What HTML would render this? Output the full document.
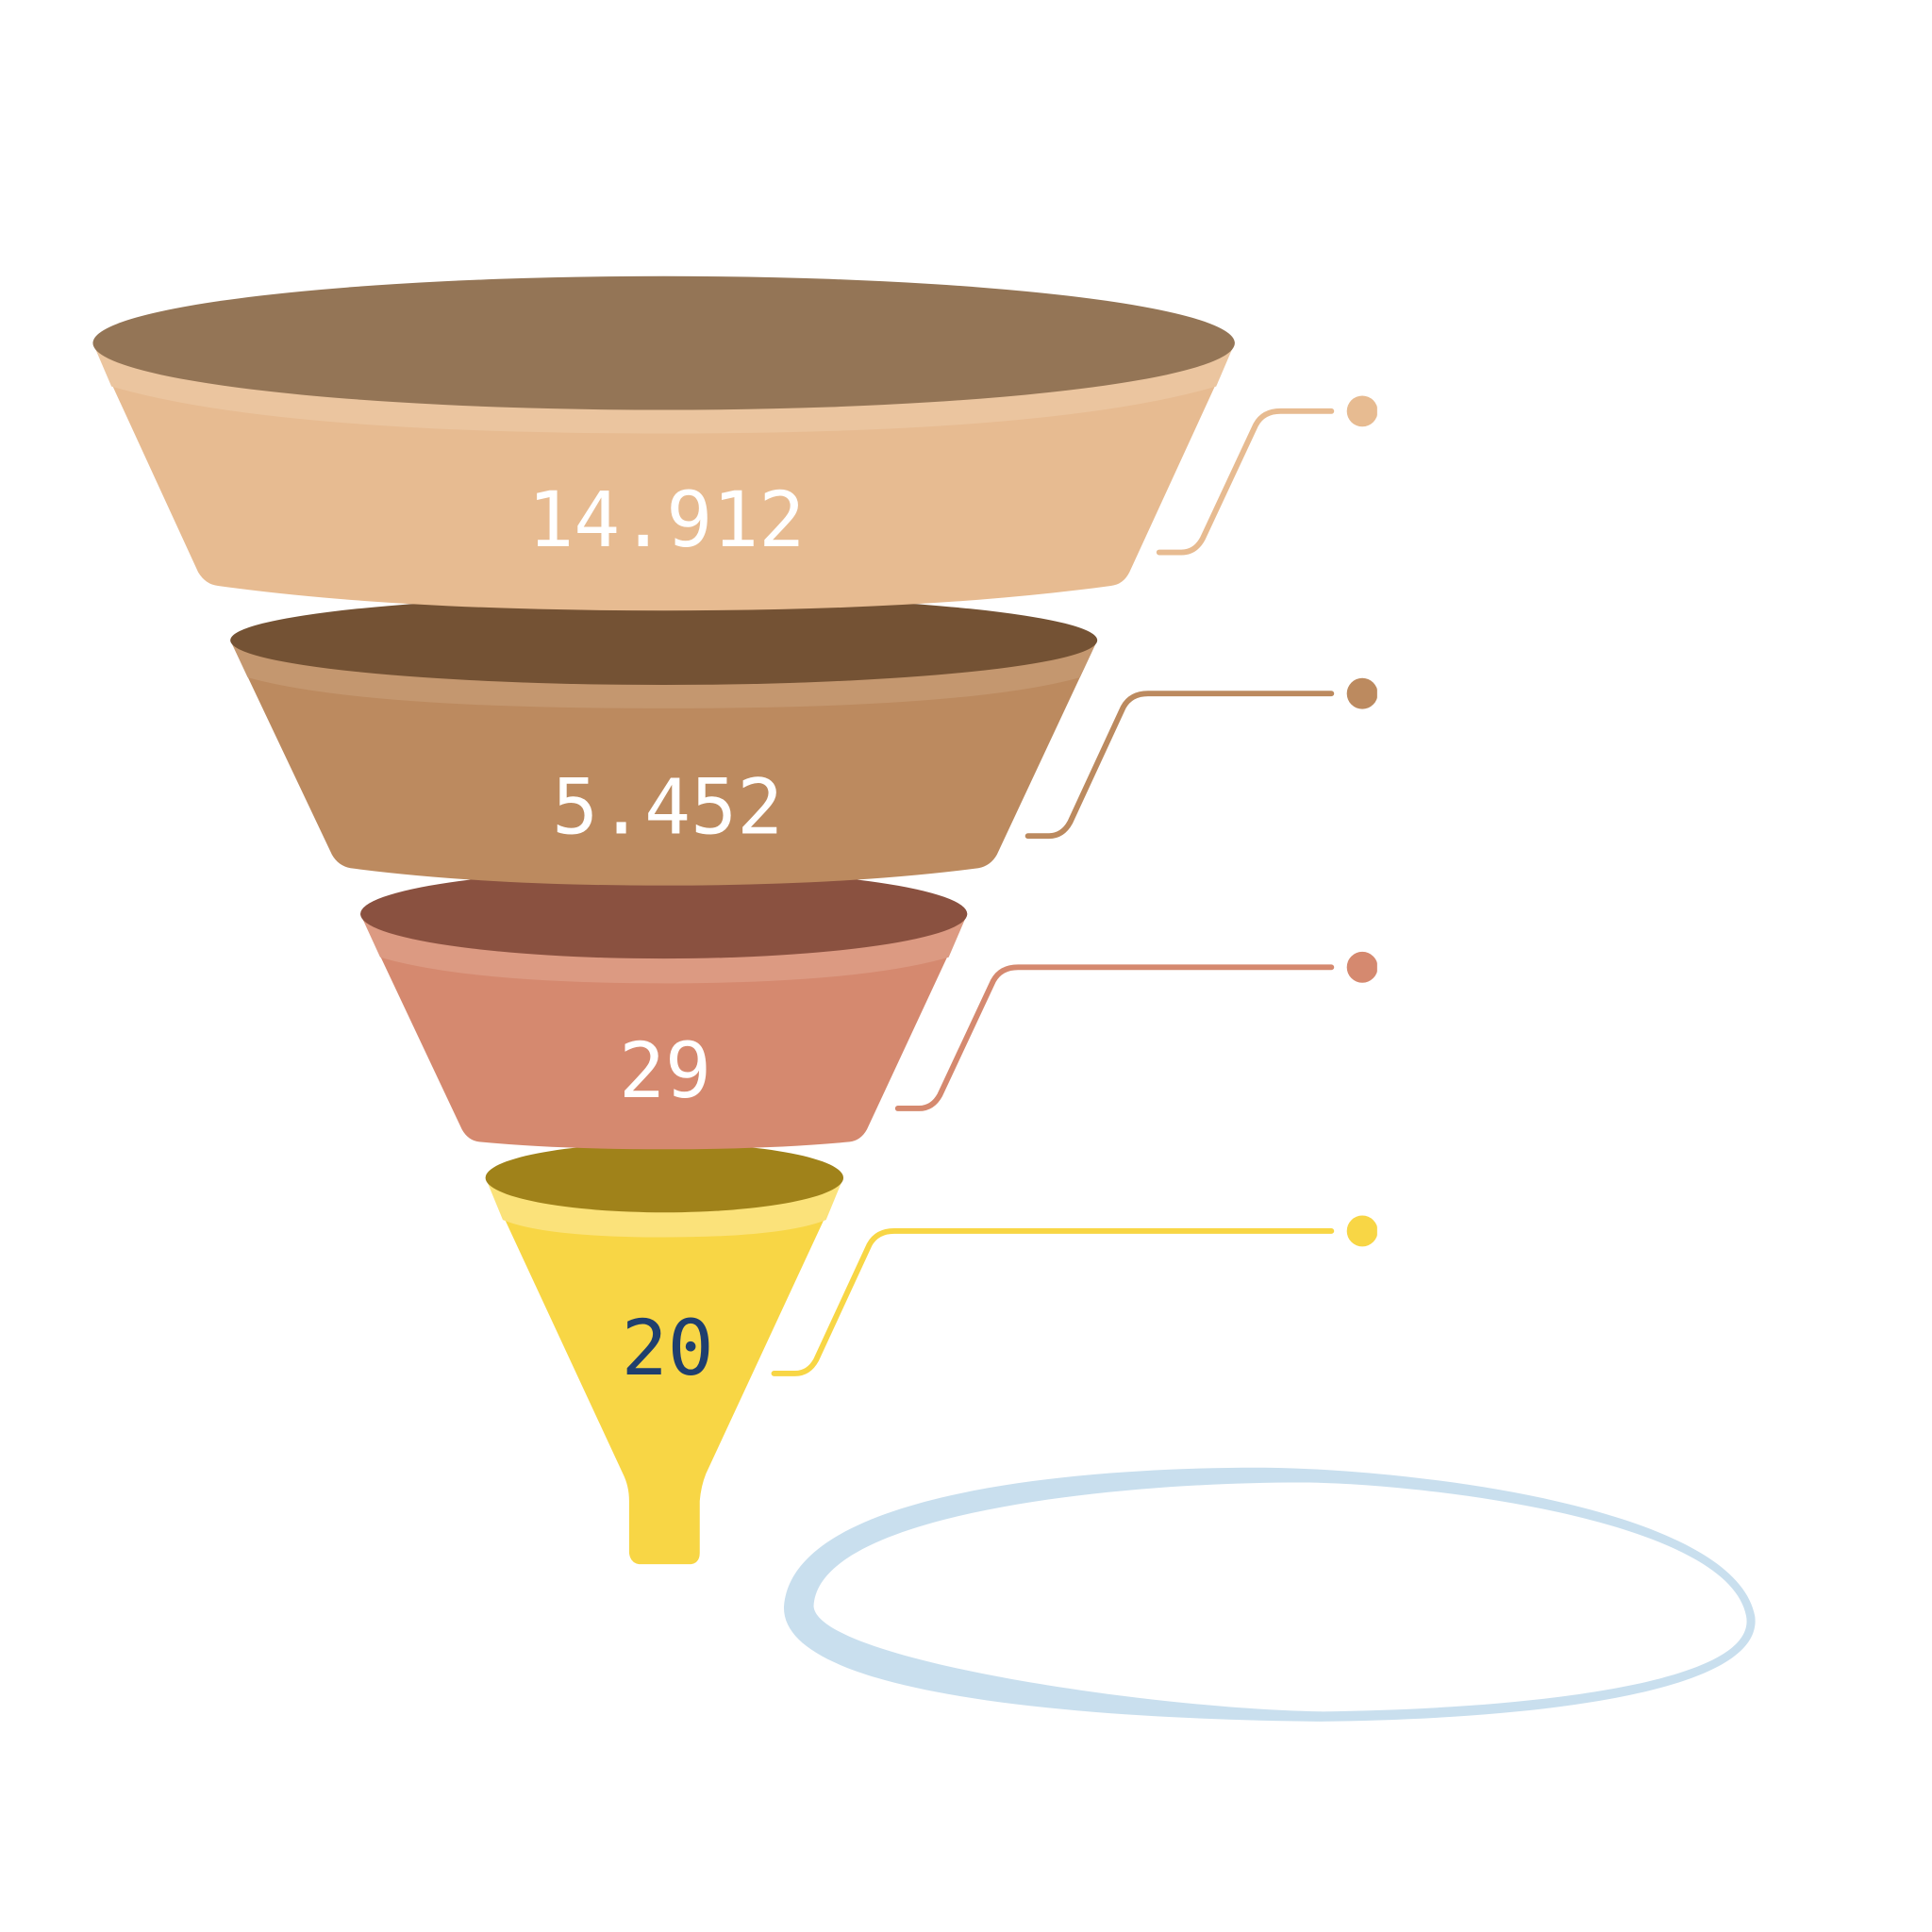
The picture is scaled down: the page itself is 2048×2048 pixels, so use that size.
<!DOCTYPE html>
<html><head><meta charset="utf-8"><style>html,body{margin:0;padding:0;background:#fff}svg{display:block}</style></head>
<body>
<svg width="2048" height="2048" viewBox="0 0 1560 1560" xmlns="http://www.w3.org/2000/svg">
<path fill="#c9dfee" fill-rule="evenodd" d="M1015,1185 C870,1185 640,1205 633,1297 C630,1370 880,1388 1065,1390 C1250,1388 1425,1365 1417,1305 C1400,1215 1130,1185 1015,1185 Z M1050,1197 C900,1197 660,1222 657,1297 C660,1340 930,1380 1068,1382 C1230,1380 1420,1360 1410,1305 C1395,1225 1140,1197 1050,1197 Z"/>
<path fill="#f8d645" d="M392,951 L503,1190 Q508,1200 508,1212 L508,1254 Q509,1262 516,1263 L558,1263 Q565,1262 565,1254 L565,1212 Q566,1200 570,1190 L681,951 Z"/>
<path fill="#fbe27a" d="M392,951 L406,985 Q440,999 536,999 Q632,999 667,985 L681,951 Z"/>
<ellipse cx="536.5" cy="951" rx="144.5" ry="28" fill="#a0821a"/>
<path fill="#d5896f" d="M291,738 L373,912 Q378,921 387,922 Q450,928 536,928 Q622,928 686,922 Q695,921 700,912 L781,738 Z"/>
<path fill="#dc9a82" d="M291,738 L307,773 Q380,794 536,794 Q692,794 766,773 L781,738 Z"/>
<ellipse cx="536" cy="738" rx="245" ry="36" fill="#8a5140"/>
<path fill="#bc8a5f" d="M186,517 L268,690 Q273,699 283,701 Q390,715 536,715 Q682,715 790,701 Q800,699 805,690 L886,517 Z"/>
<path fill="#c4976f" d="M186,517 L200,547 Q290,572 536,572 Q782,572 872,547 L886,517 Z"/>
<ellipse cx="536" cy="517" rx="350" ry="36" fill="#745234"/>
<path fill="#e7bb91" d="M75,277 L160,462 Q166,472 176,473 Q320,493 536,493 Q752,493 897,473 Q907,472 912,462 L997,277 Z"/>
<path fill="#ebc59f" d="M75,277 L90,312 Q220,350 536,350 Q852,350 982,312 L997,277 Z"/>
<ellipse cx="536" cy="277" rx="461" ry="54" fill="#947556"/>
<g font-family="'DejaVu Sans Mono','Liberation Mono',monospace" font-size="62" text-anchor="middle">
<text x="538" y="441" fill="#fff">14.912</text>
<text x="539" y="673" fill="#fff">5.452</text>
<text x="537" y="886" fill="#fff">29</text>
<text x="539" y="1110" fill="#1f3f6e">20</text>
</g>
<g fill="none" stroke-width="4.5" stroke-linecap="round" stroke-linejoin="round">
<path stroke="#e7bb91" d="M936,446 L954,446 Q965,446 971,435 L1014,343 Q1020,332 1034,332 L1075,332"/>
<path stroke="#bc8a5f" d="M830,675 L847,675 Q858,675 864,664 L907,571 Q913,560 927,560 L1075,560"/>
<path stroke="#d5896f" d="M725,895 L742,895 Q753,895 759,884 L802,792 Q808,781 822,781 L1075,781"/>
<path stroke="#f8d645" d="M625,1109 L642,1109 Q653,1109 659,1098 L702,1005 Q708,994 722,994 L1075,994"/>
</g>
<defs><clipPath id="c"><rect x="0" y="0" width="1112" height="1560"/></clipPath></defs>
<g clip-path="url(#c)">
<circle cx="1100" cy="332" r="12.5" fill="#e7bb91"/>
<circle cx="1100" cy="560" r="12.5" fill="#bc8a5f"/>
<circle cx="1100" cy="781" r="12.5" fill="#d5896f"/>
<circle cx="1100" cy="994" r="12.5" fill="#f8d645"/>
</g>
</svg>
</body></html>
